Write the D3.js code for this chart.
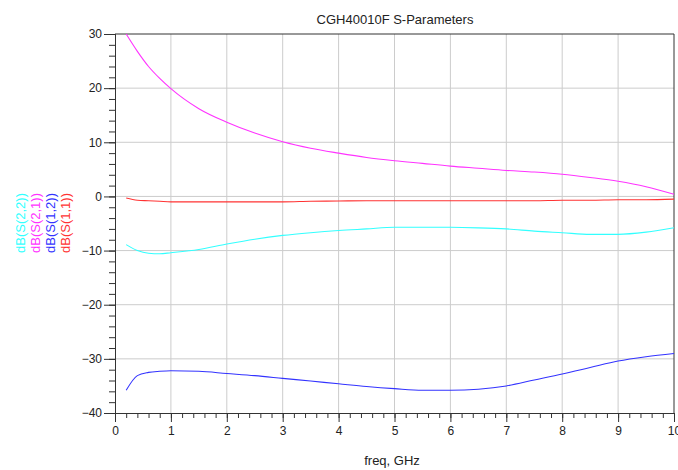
<!DOCTYPE html>
<html>
<head>
<meta charset="utf-8">
<script src="https://cdn.jsdelivr.net/npm/d3@7"></script>
<style>
  body { margin: 0; background: #fff; }
  text { font-family: "Liberation Sans", Arial, sans-serif; }
</style>
</head>
<body>
<div id="container"></div>
<script>
// frequency points, GHz
const freq = [0.2, 0.4, 0.6, 0.8, 1, 1.5, 2, 2.5, 3, 3.5, 4, 4.5, 5, 5.5, 6, 6.5, 7, 7.5, 8, 8.5, 9, 9.5, 10]

// series values in dB
const s11 = [-0.3, -0.7, -0.8, -0.9, -1.0, -1.0, -1.0, -1.0, -1.0, -0.9, -0.85, -0.8, -0.8, -0.8, -0.8, -0.8, -0.8, -0.8, -0.7, -0.7, -0.6, -0.6, -0.5]
const s12 = [-35.8, -33.1, -32.5, -32.3, -32.2, -32.3, -32.7, -33.1, -33.6, -34.1, -34.6, -35.1, -35.5, -35.8, -35.8, -35.6, -35.0, -33.9, -32.8, -31.6, -30.4, -29.6, -29.0]
const s21 = [30.0, 26.8, 24.0, 21.8, 19.9, 16.2, 13.7, 11.7, 10.1, 8.9, 8.0, 7.2, 6.6, 6.1, 5.6, 5.2, 4.8, 4.5, 4.1, 3.5, 2.8, 1.8, 0.4]
const s22 = [-8.9, -10.0, -10.5, -10.6, -10.4, -9.8, -8.8, -7.9, -7.2, -6.7, -6.3, -6.0, -5.7, -5.7, -5.7, -5.8, -6.0, -6.4, -6.7, -7.0, -7.0, -6.6, -5.8]

const seriesNames = ["dB(S(2,2))", "dB(S(2,1))", "dB(S(1,2))", "dB(S(1,1))"]
const seriesColours = ["#33ffff", "#ff33ff", "#3333ff", "#ff3333"]
const seriesValues = [s22, s21, s12, s11]

const xTicks = [0, 1, 2, 3, 4, 5, 6, 7, 8, 9, 10]
const yTicks = [30, 20, 10, 0, -10, -20, -30, -40]

const width = 678, height = 470
const margin = { top: 34, right: 4, bottom: 57, left: 115 }

const svg = d3.select("#container").append("svg")
  .attr("width", width)
  .attr("height", height)

const x = d3.scaleLinear().domain([0, 10]).range([margin.left, width - margin.right])
const y = d3.scaleLinear().domain([-40, 30]).range([height - margin.bottom, margin.top])

// grid
svg.append("g")
  .selectAll("line")
  .data(xTicks.slice(1, -1))
  .enter().append("line")
    .attr("x1", d => x(d)).attr("x2", d => x(d))
    .attr("y1", y(30)).attr("y2", y(-40))
    .style("stroke", "#cccccc")
svg.append("g")
  .selectAll("line")
  .data(yTicks.slice(1, -1))
  .enter().append("line")
    .attr("x1", x(0)).attr("x2", x(10))
    .attr("y1", d => y(d)).attr("y2", d => y(d))
    .style("stroke", "#cccccc")

// frame top and right
svg.append("line")
  .attr("x1", x(0)).attr("x2", x(10)).attr("y1", y(30)).attr("y2", y(30))
  .style("stroke", "#333")
svg.append("line")
  .attr("x1", x(10)).attr("x2", x(10)).attr("y1", y(30)).attr("y2", y(-40))
  .style("stroke", "#333")

// axes: major ticks with labels, minor ticks without
const xMinor = d3.range(0, 10.001, 0.2)
const yMinor = d3.range(-40, 30.001, 2)

svg.append("g")
  .attr("transform", `translate(0,${y(-40)})`)
  .call(d3.axisBottom(x).tickValues(xMinor).tickSize(5).tickFormat(""))
svg.append("g")
  .attr("transform", `translate(0,${y(-40)})`)
  .call(d3.axisBottom(x).tickValues(xTicks).tickSize(9).tickPadding(4).tickFormat(d3.format("d")))
svg.append("g")
  .attr("transform", `translate(${x(0)},0)`)
  .call(d3.axisLeft(y).tickValues(yMinor).tickSize(6).tickFormat(""))
svg.append("g")
  .attr("transform", `translate(${x(0)},0)`)
  .call(d3.axisLeft(y).tickValues(yTicks).tickSize(11).tickPadding(2).tickFormat(d3.format("d")))

svg.selectAll(".domain, .tick line").style("stroke", "#333")
svg.selectAll(".tick text").style("font-size", "12px").style("fill", "#222")

// curves
const line = d3.line()
  .x((d, i) => x(freq[i]))
  .y(d => y(d))
  .curve(d3.curveMonotoneX)

svg.append("g")
  .selectAll("path")
  .data(seriesValues)
  .enter().append("path")
    .attr("d", d => line(d))
    .style("fill", "none")
    .style("stroke", (d, i) => seriesColours[i])
    .style("stroke-width", 1.1)

// title and axis labels
svg.append("text")
  .attr("x", 395).attr("y", 24)
  .attr("text-anchor", "middle")
  .style("font-size", "13px").style("fill", "#222")
  .text("CGH40010F S-Parameters")

svg.append("text")
  .attr("x", 392).attr("y", 465)
  .attr("text-anchor", "middle")
  .style("font-size", "13px").style("fill", "#222")
  .text("freq, GHz")

svg.append("g")
  .selectAll("text")
  .data(seriesNames)
  .enter().append("text")
    .attr("transform", (d, i) => `translate(${25 + i * 15},223) rotate(-90)`)
    .attr("text-anchor", "middle")
    .style("font-size", "13px")
    .style("fill", (d, i) => seriesColours[i])
    .text(d => d)
</script>
</body>
</html>
